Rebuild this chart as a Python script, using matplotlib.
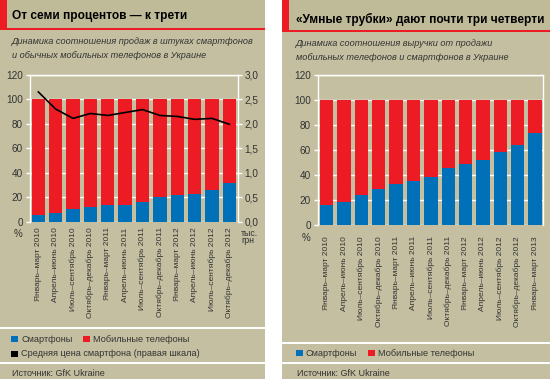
import matplotlib
matplotlib.use('Agg')
import matplotlib.pyplot as plt
from matplotlib.patches import Rectangle
import numpy as np

# data
periods_left = ['Январь–март 2010', 'Апрель–июнь 2010', 'Июль–сентябрь 2010', 'Октябрь–декабрь 2010',
                'Январь–март 2011', 'Апрель–июнь 2011', 'Июль–сентябрь 2011', 'Октябрь–декабрь 2011',
                'Январь–март 2012', 'Апрель–июнь 2012', 'Июль–сентябрь 2012', 'Октябрь–декабрь 2012']
periods_right = periods_left + ['Январь–март 2013']
smart_units = [5.4, 6.8, 10.0, 11.7, 13.4, 13.6, 16.0, 20.4, 21.8, 22.3, 25.9, 31.3]
avg_price = [2.65, 2.30, 2.11, 2.21, 2.17, 2.23, 2.29, 2.17, 2.15, 2.09, 2.11, 1.99]
smart_revenue = [15.7, 18.4, 23.7, 28.5, 32.8, 35.5, 38.7, 45.6, 48.8, 52.0, 58.4, 64.3, 73.6]
left_yticks = [0, 20, 40, 60, 80, 100, 120]
right_yticks = [0.0, 0.5, 1.0, 1.5, 2.0, 2.5, 3.0]

BLUE = '#0070B8'
RED = '#ED1C24'
BG = '#C4BFA0'
BAND = '#BFBA98'
TXT = '#333333'
FONT = ['Liberation Sans Narrow', 'Liberation Sans', 'DejaVu Sans']
plt.rcParams['font.family'] = FONT

W, H = 550, 379
fig = plt.figure(figsize=(5.5, 3.79), dpi=100, facecolor='white')


def px_rect(x0, y0, x1, y1, color, z=-5):
    fig.patches.append(Rectangle((x0 / W, 1 - y1 / H), (x1 - x0) / W, (y1 - y0) / H,
                                 transform=fig.transFigure, facecolor=color,
                                 edgecolor='none', zorder=z))


def px_text(x, y, s, **kw):
    fig.text(x / W, 1 - y / H, s, **kw)


# panels
for x0, x1, ybot in [(0, 265, 29), (282, 550, 31)]:
    px_rect(x0, 0, x1, H, BG, -10)
    px_rect(x0, 0, x1, ybot, BAND, -9)
    px_rect(x0, ybot - 1.5, x1, ybot + 0.5, RED, -8)
    px_rect(x0, 0, x0 + 7, ybot, RED, -8)

# separators
for x0, x1, y in [(0, 265, 328), (0, 265, 363), (282, 550, 343), (282, 550, 363)]:
    px_rect(x0, y - 0.7, x1, y + 0.7, 'white', -8)

# titles
px_text(12, 16, 'От семи процентов — к трети', weight='bold',
        fontsize=8.6, color='black', va='center')
px_text(296, 19, '«Умные трубки» дают почти три четверти', weight='bold',
        fontsize=8.6, color='black', va='center')
sub = dict(style='italic', fontsize=6.6, color=TXT, va='center')
px_text(12, 42, 'Динамика соотношения продаж в штуках смартфонов', **sub)
px_text(12, 56, 'и обычных мобильных телефонов в Украине', **sub)
px_text(296, 44, 'Динамика соотношения выручки от продажи', **sub)
px_text(296, 57, 'мобильных телефонов и смартфонов в Украине', **sub)


def style_axes(ax, n, labels, pad):
    ax.set_facecolor('none')
    ax.set_ylim(0, 120)
    ax.set_yticks(left_yticks)
    ax.set_yticklabels([str(v) for v in left_yticks])
    ax.yaxis.grid(True, color='white', linewidth=1)
    ax.set_axisbelow(True)
    for s in ['left', 'right', 'top']:
        ax.spines[s].set_color('white')
        ax.spines[s].set_linewidth(1)
    ax.spines['bottom'].set_visible(False)
    ax.tick_params(axis='y', colors='white', length=3, width=1, labelcolor=TXT,
                   labelsize=7.2, pad=2)
    ax.set_xticks(np.arange(n))
    ax.set_xticklabels(labels, rotation=90, fontsize=6.0, color=TXT,
                       va='top', ha='center')
    ax.tick_params(axis='x', length=0, pad=pad)


# left chart
x = np.arange(len(periods_left))
axl = fig.add_axes([30 / W, 1 - 221.7 / H, 207.7 / W, 146.9 / H])
axl.bar(x, smart_units, width=0.77, color=BLUE, zorder=2)
axl.bar(x, 100 - np.array(smart_units), bottom=smart_units, width=0.77, color=RED, zorder=2)
axl.set_xlim(-0.48, 11.48)
style_axes(axl, len(x), periods_left, 4)
axr = axl.twinx()
axr.set_ylim(0, 3.0)
axr.set_yticks(right_yticks)
axr.set_yticklabels([f'{v:.1f}'.replace('.', ',') for v in right_yticks])
axr.tick_params(axis='y', colors='white', length=3, width=1, labelcolor=TXT, labelsize=7.2, pad=2)
for s in axr.spines.values():
    s.set_visible(False)
axr.plot(x, avg_price, color='black', linewidth=1.2, zorder=3)
px_text(18, 234, '%', fontsize=7, color=TXT, ha='center', va='center')
px_text(241, 237, 'тыс.\nгрн', fontsize=6.3, color=TXT, ha='left',
        va='center', linespacing=0.85)

# right chart
x2 = np.arange(len(periods_right))
ax2 = fig.add_axes([317.7 / W, 1 - 225 / H, 225.3 / W, 150 / H])
ax2.bar(x2, smart_revenue, width=0.77, color=BLUE, zorder=2)
ax2.bar(x2, 100 - np.array(smart_revenue), bottom=smart_revenue, width=0.77, color=RED, zorder=2)
ax2.set_xlim(-0.52, 12.46)
style_axes(ax2, len(x2), periods_right, 8)
px_text(306, 238, '%', fontsize=7, color=TXT, ha='center', va='center')


# legends
def legend_item(x0, y, color, label):
    px_rect(x0, y - 3, x0 + 6.5, y + 3, color, -7)
    px_text(x0 + 10, y, label, fontsize=6.6, color=TXT, va='center')


legend_item(11, 339, BLUE, 'Смартфоны')
legend_item(83, 339, RED, 'Мобильные телефоны')
legend_item(11, 354, 'black', 'Средняя цена смартфона (правая шкала)')
legend_item(296, 353, BLUE, 'Смартфоны')
legend_item(368, 353, RED, 'Мобильные телефоны')

px_text(12, 373, 'Источник: GfK Ukraine', fontsize=6.5, color=TXT, va='center')
px_text(297, 373, 'Источник: GfK Ukraine', fontsize=6.5, color=TXT, va='center')

fig.savefig('out.png', dpi=100, facecolor='white')
